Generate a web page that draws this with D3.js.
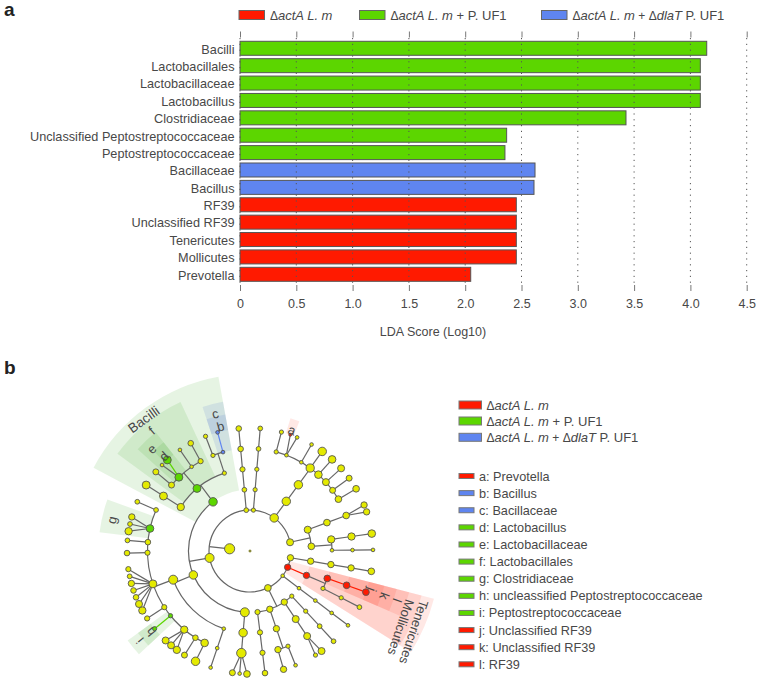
<!DOCTYPE html>
<html>
<head>
<meta charset="utf-8">
<script src="https://cdn.jsdelivr.net/npm/d3@7"></script>
<style>
  body { margin: 0; background: #fff; }
  text { font-family: "Liberation Sans", Arial, sans-serif; fill: #484848; }
  .axis path { display: none; }
  .axis line { stroke: #777; }
</style>
</head>
<body>
<div id="chart"></div>
<script>
// Panel a: LDA scores.
var taxa = ["Bacilli", "Lactobacillales", "Lactobacillaceae", "Lactobacillus", "Clostridiaceae",
  "Unclassified Peptostreptococcaceae", "Peptostreptococcaceae", "Bacillaceae", "Bacillus",
  "RF39", "Unclassified RF39", "Tenericutes", "Mollicutes", "Prevotella"];
var ldaScores = [4.145, 4.088, 4.088, 4.088, 3.428, 2.368, 2.353, 2.62, 2.611, 2.454, 2.454, 2.454, 2.454, 2.049];
var taxaGroup = ["uf1", "uf1", "uf1", "uf1", "uf1", "uf1", "uf1", "dlat", "dlat", "actA", "actA", "actA", "actA", "actA"];
var ldaTicks = [0, 0.5, 1, 1.5, 2, 2.5, 3, 3.5, 4, 4.5];

// Legends.
var groups = ["actA", "uf1", "dlat"];
var groupColors = ["#ff1a00", "#5cd600", "#5f85f0"];
var sectorColors = ["#ff1a00", "#3caa28", "#3f65d0"];
var sectorOpacity = [0.1, 0.13, 0.13];
var cladeKeyLabels = ["a: Prevotella", "b: Bacillus", "c: Bacillaceae", "d: Lactobacillus", "e: Lactobacillaceae",
  "f: Lactobacillales", "g: Clostridiaceae", "h: uncleassified Peptostreptococcaceae", "i: Peptostreptococcaceae",
  "j: Unclassified RF39", "k: Unclassified RF39", "l: RF39"];
var cladeKeyGroups = ["actA", "dlat", "dlat", "uf1", "uf1", "uf1", "uf1", "uf1", "uf1", "actA", "actA", "actA"];

// Panel b: taxonomy. Each id is its parent's id plus one letter, in clockwise order.
var cladeIds = ["R", "Ra",
  "Raa", "Raaa", "Raaaa", "Raaaaa", "Raaaaaa",
  "Rab", "Raba", "Rabaa", "Rabaaa", "Rabaaaa", "Rabab", "Rababa", "Rababaa",
  "Rac", "Raca", "Racaa", "Racaaa", "Racaaaa",
  "Rad", "Rada", "Radaa", "Radaaa", "Radaaaa", "Radb", "Radba", "Radbaa", "Radbaaa", "Radbaab",
  "Radc", "Radca", "Radcaa", "Radcaaa", "Radcab", "Radcaba", "Radd", "Radda", "Raddaa", "Raddaaa",
  "Rae", "Raea", "Raeaa", "Raeaaa", "Raeaaaa", "Raeaaab", "Raeaaac",
  "Raeb", "Raeba", "Raebaa", "Raebaaa", "Raebb",
  "Raebba", "Raebbaa", "Raebbb", "Raebbba", "Raebbc", "Raebbca", "Raebbcb", "Raebbcc",
  "Raebbd", "Raebbda", "Raebbe", "Raebbea",
  "Raebbf", "Raebbfa", "Raebbfb", "Raebbfc", "Raebbfd", "Raebbfe", "Raebbff", "Raebbfg",
  "Raebbg", "Raebbga", "Raebbh", "Raebbha", "Raebbi", "Raebbia", "Raebbib", "Raebbic", "Raebbj", "Raebbja",
  "Raec", "Raeca", "Raecaa", "Raecaaa", "Raecb",
  "Raecba", "Raecbaa", "Raecbb", "Raecbba", "Raecbbb", "Raecbc", "Raecbca", "Raecbd", "Raecbda",
  "Raecc", "Raecca", "Raeccaa", "Raeccb", "Raeccba",
  "Raf", "Rafa", "Rafaa", "Rafaaa", "Rafaaaa",
  "Rag", "Raga", "Ragaa", "Ragaaa", "Ragaaaa",
  "Rah", "Raha", "Rahaa", "Rahaaa", "Rahaaaa", "Rahaab", "Rahaaba", "Rahaabb", "Rahaac", "Rahaaca",
  "Rahaad", "Rahaada", "Rahaae", "Rahaaea", "Rahaaf", "Rahaafa", "Rahaag", "Rahaaga", "Rahaah", "Rahaaha",
  "Rai", "Raia", "Raiaa", "Raiaaa", "Raiaaaa", "Raiaaab", "Raib", "Raiba", "Raibaa", "Raibaaa", "Raibb", "Raibba", "Raibbaa"];
var cladeAbundance = [2, 23,
  9, 9, 9, 9, 10,
  9, 9, 10, 10, 10, 4, 4, 5,
  3, 3, 3, 3, 3,
  10, 4, 4, 5, 5, 9, 11, 11, 11, 4,
  9, 9, 4, 3, 9, 9, 6, 6, 6, 7,
  18, 18, 16, 20, 10, 3, 8,
  16, 3, 3, 3, 18,
  13, 16, 7, 8, 12, 12, 11, 11,
  4, 4, 6, 6,
  14, 12, 11, 7, 7, 9, 5, 6,
  6, 7, 7, 5, 13, 12, 5, 9, 5, 5,
  16, 12, 14, 14, 14,
  8, 8, 14, 3, 14, 3, 3, 6, 7,
  4, 4, 4, 3, 3,
  5, 5, 6, 7, 7,
  4, 4, 4, 5, 5,
  16, 16, 16, 4, 4, 3, 2, 3, 3, 3,
  15, 16, 13, 13, 11, 11, 8, 8, 10, 10,
  11, 11, 10, 10, 9, 9, 10, 12, 12, 13, 3, 3, 3];
var enrichedActA = ["Rab", "Raba", "Rabaa", "Rabaaa", "Rabaaaa", "Rahaaba"];
var enrichedUf1 = ["Raebbd", "Raebbda", "Raebbi", "Raec", "Raecb", "Raecbb", "Raecbbb"];
var enrichedDlat = ["Raeccb", "Raeccba"];

// Shaded clades and their labels.
var shadedClades = ["Rab", "Raba", "Rabaa", "Rabaaa", "Rabaaaa", "Rahaaba", "Raec", "Raecb", "Raecbb", "Raecbbb",
  "Raebbi", "Raebbd", "Raebbda", "Raeccb", "Raeccba"];
var shadedLabels = ["Tenericutes", "Mollicutes", "l", "k", "j", "a", "Bacilli", "f", "e", "d", "g", "i", "h", "c", "b"];
// The two long red labels sit a little past their clade and lean back.
var labelShift = [3, 3.5, -1, -1, -2, 0, -2, 1, 0, 0, 0, 0, 0, 1, 2];
var labelLean = [-5, -5, 0, 0, 0, 0, 1, 0, 0, 0, 0, 0, 0, 0, 0];

var width = 764, height = 686;

var svg = d3.select("#chart").append("svg")
  .attr("width", width)
  .attr("height", height);

function groupColor(g) { return groupColors[groups.indexOf(g)]; }

// Panel letters.
svg.append("text").attr("x", 4).attr("y", 16).style("font-size", "19px").style("font-weight", "bold").style("fill", "#222").text("a");
svg.append("text").attr("x", 4).attr("y", 374).style("font-size", "19px").style("font-weight", "bold").style("fill", "#222").text("b");

// Writes a group's name, with the italic parts.
function groupName(sel, g) {
  var parts = {
    actA: [["\u0394", 0], ["actA L. m", 1]],
    uf1: [["\u0394", 0], ["actA L. m", 1], [" + P. UF1", 0]],
    dlat: [["\u0394", 0], ["actA L. m", 1], [" + \u0394", 0], ["dlaT", 1], [" P. UF1", 0]]
  }[g];
  parts.forEach(function(p) {
    sel.append("tspan")
      .style("font-style", p[1] ? "italic" : "normal")
      .style("font-size", p[0].indexOf("\u0394") >= 0 ? "12px" : null)
      .text(p[0]);
  });
}

// ---- Panel a ----
var xScale = d3.scaleLinear().domain([0, 4.5]).range([240, 746.7]);
var yScale = d3.scaleBand().domain(taxa).range([39.6, 283]).paddingInner(0.195).paddingOuter(0.0975);

var legendTop = [239, 359.5, 541.5];
groups.forEach(function(g, i) {
  svg.append("rect").attr("x", legendTop[i]).attr("y", 10.5).attr("width", 25.5).attr("height", 9)
    .attr("fill", groupColors[i]).attr("stroke", "#666").attr("stroke-width", 1);
  svg.append("text").attr("x", legendTop[i] + 31).attr("y", 19.5).style("font-size", "13px").call(groupName, g);
});

svg.selectAll(".bar").data(taxa).enter().append("rect")
  .attr("class", "bar")
  .attr("x", xScale(0))
  .attr("y", function(d) { return yScale(d); })
  .attr("width", function(d, i) { return xScale(ldaScores[i]) - xScale(0); })
  .attr("height", yScale.bandwidth())
  .attr("fill", function(d, i) { return groupColor(taxaGroup[i]); })
  .attr("stroke", "#555")
  .attr("stroke-width", 1);

// Dotted guides run over the bars.
svg.selectAll(".guide").data(ldaTicks).enter().append("line")
  .attr("class", "guide")
  .attr("x1", xScale).attr("x2", xScale)
  .attr("y1", 38).attr("y2", 285)
  .attr("stroke", "#555")
  .attr("stroke-dasharray", "1.2,4.6");

svg.selectAll(".taxon").data(taxa).enter().append("text")
  .attr("class", "taxon")
  .attr("x", 234.5)
  .attr("y", function(d) { return yScale(d) + yScale.bandwidth() / 2; })
  .attr("dy", ".42em")
  .attr("text-anchor", "end")
  .style("font-size", "12.7px")
  .text(function(d) { return d; });

svg.append("g").attr("class", "axis")
  .attr("transform", "translate(0,37.5)")
  .call(d3.axisTop(xScale).tickValues(ldaTicks).tickSize(6).tickFormat(""));

svg.append("g").attr("class", "axis")
  .attr("transform", "translate(0,285)")
  .call(d3.axisBottom(xScale).tickValues(ldaTicks).tickSize(6).tickPadding(8)
    .tickFormat(function(d) { return d === 0 ? "0" : d3.format(".1f")(d); }))
  .selectAll("text")
  .style("font-size", "12.5px")
  .style("font-family", "'Liberation Sans', Arial, sans-serif")
  .style("fill", "#484848");

svg.append("text").attr("x", 433).attr("y", 336).attr("text-anchor", "middle")
  .style("font-size", "12.5px").text("LDA Score (Log10)");

// ---- Panel b legends ----
var legendY = d3.scaleOrdinal().domain(groups).range([401, 417, 433.3]);
groups.forEach(function(g, i) {
  svg.append("rect").attr("x", 459).attr("y", legendY(g)).attr("width", 22.5).attr("height", 8)
    .attr("fill", groupColors[i]).attr("stroke", "#777").attr("stroke-width", 1);
  svg.append("text").attr("x", 486.5).attr("y", legendY(g) + 8.5).style("font-size", "13px").call(groupName, g);
});

var keyY = d3.scalePoint().domain(cladeKeyLabels).range([476, 664.3]);
svg.selectAll(".keyswatch").data(cladeKeyLabels).enter().append("rect")
  .attr("class", "keyswatch")
  .attr("x", 459).attr("width", 15)
  .attr("y", function(d) { return keyY(d) - 2.5; }).attr("height", 5)
  .attr("fill", function(d, i) { return groupColor(cladeKeyGroups[i]); })
  .attr("stroke", "#777").attr("stroke-width", 1);
svg.selectAll(".keytext").data(cladeKeyLabels).enter().append("text")
  .attr("class", "keytext")
  .attr("x", 479)
  .attr("y", function(d) { return keyY(d) + 4.5; })
  .style("font-size", "12.7px")
  .text(function(d) { return d; });

// ---- Panel b cladogram ----
var clade = svg.append("g").attr("transform", "translate(250,551)");

var root = d3.stratify()
  .id(function(d) { return d.id; })
  .parentId(function(d) { return d.id.length > 1 ? d.id.slice(0, -1) : null; })(
    cladeIds.map(function(id, i) { return { id: id, abundance: cladeAbundance[i] }; }));

function crowded(leaf) { return leaf.parent.children.length > 1; }

// Angular gap between neighbouring leaves, wider the higher up they part.
function leafGap(cur, prev) {
  if (cur.parent === prev.parent) return 3.4;
  var depth = d3.min(cur.path(prev), function(n) { return n.depth; });
  var gap = { 1: 10, 2: 8.8, 3: 7.6, 4: 5.9 }[depth];
  if (crowded(prev)) gap += 1.6;
  if (crowded(cur)) gap -= 1.6;
  return gap;
}

d3.cluster().size([360, 1]).separation(leafGap)(root);

var leaves = root.leaves();
var startAngle = 99.5 - leafGap(leaves[0], leaves[leaves.length - 1]) / 2;
leaves.forEach(function(l) { l.angle = l.x + startAngle; });
root.eachAfter(function(n) {
  if (n.children) n.angle = d3.mean(n.leaves(), function(l) { return l.angle; });
});

function rad(deg) { return deg * Math.PI / 180; }
var levelR = d3.scaleLinear().domain([0, 6]).range([0, 123]);
var nodeR = d3.scaleSqrt().domain([0, 25]).range([0, 5.3]);
function pt(angle, depth) { return d3.pointRadial(rad(angle), levelR(depth)); }

var byId = new Map(root.descendants().map(function(n) { return [n.id, n]; }));
function groupOf(id) {
  if (enrichedActA.indexOf(id) >= 0) return "actA";
  if (enrichedUf1.indexOf(id) >= 0) return "uf1";
  if (enrichedDlat.indexOf(id) >= 0) return "dlat";
  return null;
}

// Shaded sectors, each reaching halfway to the leaf next door.
function sectorOuter(depth) { return 190 - (depth - 2) * 12.8; }
function labelRadius(depth) { return 128 + (6 - depth) * 13.7; }
var sectors = shadedClades.map(function(id, i) {
  var n = byId.get(id), own = n.leaves();
  var first = leaves.indexOf(own[0]), last = leaves.indexOf(own[own.length - 1]);
  return {
    node: n, label: shadedLabels[i], group: groupOf(id), shift: labelShift[i], lean: labelLean[i],
    a0: (leaves[first - 1].angle + own[0].angle) / 2,
    a1: (own[own.length - 1].angle + leaves[last + 1].angle) / 2
  };
}).sort(function(a, b) { return a.node.depth - b.node.depth; });

var sectorArc = d3.arc()
  .innerRadius(function(d) { return levelR(d.node.depth); })
  .outerRadius(function(d) { return sectorOuter(d.node.depth); })
  .startAngle(function(d) { return rad(d.a0); })
  .endAngle(function(d) { return rad(d.a1); });

clade.selectAll(".sector").data(sectors).enter().append("path")
  .attr("class", "sector")
  .attr("d", sectorArc)
  .attr("fill", function(d) { return sectorColors[groups.indexOf(d.group)]; })
  .attr("fill-opacity", function(d) { return sectorOpacity[groups.indexOf(d.group)]; });

// Branches: an arc at the children's radius and a spoke up to it, or a plain fan at the tips.
function edgeColor(child) {
  var g = groupOf(child.id);
  if (g && (g === "actA" || !child.children) && groupOf(child.parent.id)) return groupColor(g);
  return "#666";
}
var branchData = [];
root.descendants().forEach(function(n) {
  if (!n.children || n.depth === 0) return;
  if (n.depth === 5 || n.children.length === 1) {
    n.children.forEach(function(c) {
      branchData.push({ d: d3.line()([pt(n.angle, n.depth), pt(c.angle, c.depth)]), color: edgeColor(c) });
    });
    return;
  }
  var p = d3.path();
  var angles = n.children.map(function(c) { return c.angle; });
  p.arc(0, 0, levelR(n.depth + 1), rad(d3.min(angles)) - Math.PI / 2, rad(d3.max(angles)) - Math.PI / 2);
  branchData.push({ d: p.toString(), color: "#666" });
  branchData.push({ d: d3.line()([pt(n.angle, n.depth), pt(n.angle, n.depth + 1)]), color: "#666" });
});

clade.selectAll(".branch").data(branchData).enter().append("path")
  .attr("class", "branch")
  .attr("d", function(d) { return d.d; })
  .attr("fill", "none")
  .attr("stroke", function(d) { return d.color; })
  .attr("stroke-width", 1.2);

clade.selectAll(".node").data(root.descendants()).enter().append("circle")
  .attr("class", "node")
  .attr("transform", function(d) { var q = pt(d.angle, d.depth); return "translate(" + q[0] + "," + q[1] + ")"; })
  .attr("r", function(d) { return nodeR(d.data.abundance); })
  .attr("fill", function(d) {
    if (d.depth === 0) return "#8a8a3c";
    var g = groupOf(d.id);
    return g ? groupColor(g) : "#e4ea00";
  })
  .attr("stroke", function(d) { return d.depth === 0 ? "none" : "#555"; })
  .attr("stroke-width", 0.9);

clade.selectAll(".sectorlabel").data(sectors).enter().append("text")
  .attr("class", "sectorlabel")
  .attr("transform", function(d) {
    var q = d3.pointRadial(rad(d.node.angle + d.shift), labelRadius(d.node.depth));
    return "translate(" + q[0] + "," + q[1] + ") rotate(" + (d.node.angle + d.lean) + ")";
  })
  .attr("text-anchor", "middle")
  .attr("dy", ".35em")
  .style("font-size", function(d) { return d.label === "Bacilli" ? "13.5px" : "13px"; })
  .text(function(d) { return d.label; });
</script>
</body>
</html>
